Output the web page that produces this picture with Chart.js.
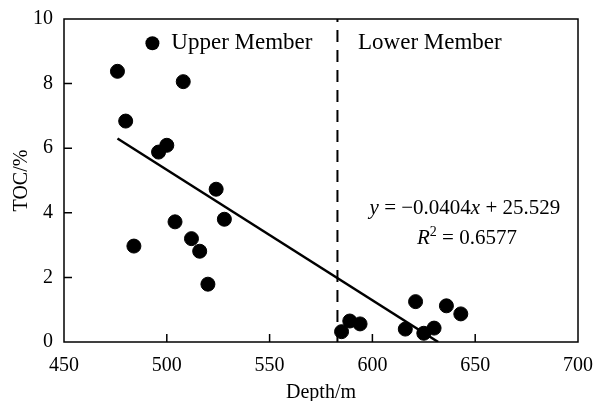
<!DOCTYPE html>
<html>
<head>
<meta charset="utf-8">
<script src="https://cdn.jsdelivr.net/npm/chart.js@4.4.1/dist/chart.umd.min.js"></script>
<style>
  html, body { margin: 0; padding: 0; background: #fff; }
  #wrap { width: 598px; height: 401px; }
</style>
</head>
<body>
<div id="wrap"><canvas id="myChart" width="598" height="401"></canvas></div>
<script>
// upper member samples (depth m, TOC %)
const upperDepth = [476, 508, 480, 496, 500, 524, 504, 528, 484, 512, 516, 520];
const upperToc = [8.38, 8.06, 6.84, 5.88, 6.09, 4.73, 3.72, 3.80, 2.97, 3.20, 2.81, 1.79];

// lower member samples
const lowerDepth = [585, 589, 594, 616, 621, 625, 630, 636, 643];
const lowerToc = [0.32, 0.65, 0.56, 0.40, 1.25, 0.27, 0.43, 1.12, 0.87];

// trend line ends
const fitDepth = [476, 632];
const fitToc = [6.3, 0];

// boundary between the members
const boundaryDepth = [583, 583];
const boundaryToc = [0, 10];

const xTicks = [450, 500, 550, 600, 650, 700];
const yTicks = [0, 2, 4, 6, 8, 10];

const FONT = 'Liberation Serif, Times New Roman, serif';

const toPoints = (xs, ys) => xs.map((x, i) => ({ x: x, y: ys[i] }));

//draws the frame, the inward ticks and all the text inside the plot
const extras = {
  id: 'extras',
  afterDraw(chart) {
    const ctx = chart.ctx;
    const a = chart.chartArea;
    const xs = chart.scales.x;
    const ys = chart.scales.y;
    ctx.save();
    ctx.strokeStyle = '#000';
    ctx.lineWidth = 1.5;
    ctx.strokeRect(a.left, a.top, a.right - a.left, a.bottom - a.top);

    ctx.beginPath();
    xTicks.slice(1, -1).forEach(v => {
      const px = xs.getPixelForValue(v);
      ctx.moveTo(px, a.bottom);
      ctx.lineTo(px, a.bottom - 8);
    });
    yTicks.slice(1, -1).forEach(v => {
      const py = ys.getPixelForValue(v);
      ctx.moveTo(a.left, py);
      ctx.lineTo(a.left + 8, py);
    });
    ctx.stroke();

    ctx.fillStyle = '#000';
    ctx.textBaseline = 'middle';

    //legend dot for the upper member
    ctx.beginPath();
    ctx.arc(xs.getPixelForValue(493), ys.getPixelForValue(9.25), 7, 0, Math.PI * 2);
    ctx.fill();

    ctx.font = '23px ' + FONT;
    ctx.textAlign = 'left';
    ctx.fillText('Upper Member', xs.getPixelForValue(502.2), ys.getPixelForValue(9.27));
    ctx.fillText('Lower Member', xs.getPixelForValue(593), ys.getPixelForValue(9.27));

    //equation, mixed italic
    const drawRuns = (runs, cx, cy) => {
      let total = 0;
      runs.forEach(r => { ctx.font = r[1]; total += ctx.measureText(r[0]).width; });
      let x = cx - total / 2;
      runs.forEach(r => {
        ctx.font = r[1];
        ctx.fillText(r[0], x, cy + (r[2] || 0));
        x += ctx.measureText(r[0]).width;
      });
    };
    const it = 'italic 21px ' + FONT;
    const rm = '21px ' + FONT;
    drawRuns([['y', it], [' = \u22120.0404', rm], ['x', it], [' + 25.529', rm]],
      xs.getPixelForValue(645), ys.getPixelForValue(4.12));
    drawRuns([['R', it], ['2', '14px ' + FONT, -6], [' = 0.6577', rm]],
      xs.getPixelForValue(646), ys.getPixelForValue(3.22));
    ctx.restore();
  }
};

const ctx = document.getElementById('myChart');
new Chart(ctx, {
  type: 'scatter',
  data: {
    datasets: [
      {
        label: 'Upper Member',
        data: toPoints(upperDepth, upperToc),
        backgroundColor: '#000',
        borderColor: '#000',
        pointRadius: 7,
        pointHoverRadius: 7
      },
      {
        label: 'Lower Member',
        data: toPoints(lowerDepth, lowerToc),
        backgroundColor: '#000',
        borderColor: '#000',
        pointRadius: 7,
        pointHoverRadius: 7
      },
      {
        type: 'line',
        label: 'fit',
        data: toPoints(fitDepth, fitToc),
        borderColor: '#000',
        borderWidth: 2.5,
        pointRadius: 0,
        fill: false
      },
      {
        type: 'line',
        label: 'boundary',
        data: toPoints(boundaryDepth, boundaryToc),
        borderColor: '#000',
        borderWidth: 2,
        borderDash: [12, 8],
        pointRadius: 0,
        fill: false
      }
    ]
  },
  options: {
    responsive: false,
    animation: false,
    layout: { padding: { top: 19, right: 20, left: 0, bottom: 0 } },
    scales: {
      x: {
        type: 'linear',
        min: 450,
        max: 700,
        afterFit: s => { s.height = 59; },
        afterBuildTicks: s => { s.ticks = xTicks.map(v => ({ value: v })); },
        grid: { display: false, tickLength: 8 },
        border: { display: false },
        ticks: { color: '#000', font: { family: FONT, size: 20 }, padding: 4 },
        title: {
          display: true,
          text: 'Depth/m',
          color: '#000',
          font: { family: FONT, size: 20 },
          padding: { top: 0, bottom: -4 }
        }
      },
      y: {
        min: 0,
        max: 10,
        afterFit: s => { s.width = 64; },
        afterBuildTicks: s => { s.ticks = yTicks.map(v => ({ value: v })); },
        grid: { display: false, tickLength: 8 },
        border: { display: false },
        ticks: { color: '#000', font: { family: FONT, size: 20 }, padding: 3 },
        title: {
          display: true,
          text: 'TOC/%',
          color: '#000',
          font: { family: FONT, size: 20 },
          padding: { top: 10, bottom: 0 }
        }
      }
    },
    plugins: {
      legend: { display: false },
      tooltip: { enabled: false }
    }
  },
  plugins: [extras]
});
</script>
</body>
</html>
